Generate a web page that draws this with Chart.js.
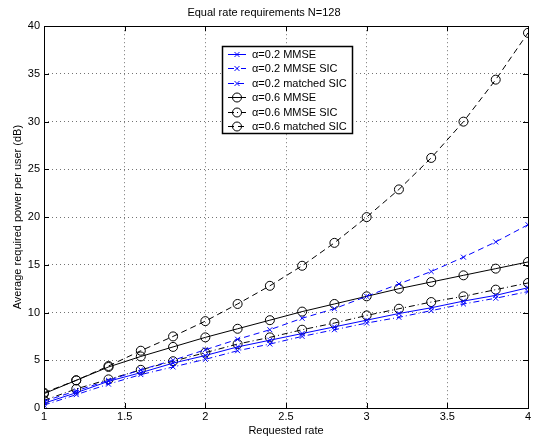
<!DOCTYPE html>
<html>
<head>
<meta charset="utf-8">
<script src="https://cdn.jsdelivr.net/npm/chart.js@4/dist/chart.umd.min.js"></script>
<style>
  html, body { margin: 0; padding: 0; background: #fff; }
  #wrap { width: 537px; height: 438px; }
</style>
</head>
<body>
<div id="wrap"><canvas id="chart" width="537" height="438"></canvas></div>
<script>
// requested rate values (x)
const rates = [1, 1.2, 1.4, 1.6, 1.8, 2, 2.2, 2.4, 2.6, 2.8, 3, 3.2, 3.4, 3.6, 3.8, 4];

// average required power per user (dB)
const a02Mmse       = [0.5, 1.6, 2.8, 3.7, 4.7, 5.5, 6.4, 7.1, 7.8, 8.5, 9.2, 9.9, 10.5, 11.2, 11.8, 12.6];
const a02MmseSic    = [0.3, 1.4, 2.5, 3.5, 4.3, 5.1, 6.0, 6.7, 7.5, 8.2, 8.9, 9.5, 10.2, 10.9, 11.5, 12.2];
const a02MatchedSic = [0.7, 1.8, 2.9, 4.0, 5.0, 6.1, 7.2, 8.2, 9.4, 10.4, 11.7, 13.0, 14.3, 15.8, 17.4, 19.2];
const a06Mmse       = [1.5, 2.9, 4.3, 5.4, 6.4, 7.4, 8.3, 9.2, 10.1, 10.9, 11.7, 12.5, 13.2, 13.9, 14.6, 15.3];
const a06MmseSic    = [0.8, 2.0, 3.0, 4.0, 4.9, 5.8, 6.7, 7.4, 8.2, 8.9, 9.7, 10.4, 11.1, 11.7, 12.4, 13.1];
const a06MatchedSic = [1.6, 2.9, 4.4, 6.0, 7.5, 9.1, 10.9, 12.8, 14.9, 17.3, 20.0, 22.9, 26.2, 30.0, 34.4, 39.3];

const seriesLabels = ['\u03b1=0.2 MMSE', '\u03b1=0.2 MMSE SIC', '\u03b1=0.2 matched SIC',
                      '\u03b1=0.6 MMSE', '\u03b1=0.6 MMSE SIC', '\u03b1=0.6 matched SIC'];
const xTicks = [1, 1.5, 2, 2.5, 3, 3.5, 4];
const yTicks = [0, 5, 10, 15, 20, 25, 30, 35, 40];

const FONT = '"Liberation Sans", Arial, Helvetica, sans-serif';
const BLUE = '#0000ff';
const BLACK = '#000000';
const SOLID = [];
const DASH = [6, 4];
const DASHDOT = [6, 3, 1, 3];

function makeSet(label, values, color, dash, marker) {
    return {
        label: label,
        data: values.map((v, i) => ({ x: rates[i], y: v })),
        borderColor: color,
        backgroundColor: 'rgba(0,0,0,0)',
        borderWidth: 1,
        borderDash: dash,
        pointStyle: marker,
        pointRadius: marker === 'circle' ? 4.5 : 3.5,
        pointBorderColor: color,
        pointBackgroundColor: 'rgba(0,0,0,0)',
        pointBorderWidth: 1,
        tension: 0,
        fill: false
    };
}

const datasets = [
    makeSet(seriesLabels[0], a02Mmse, BLUE, SOLID, 'crossRot'),
    makeSet(seriesLabels[1], a02MmseSic, BLUE, DASHDOT, 'crossRot'),
    makeSet(seriesLabels[2], a02MatchedSic, BLUE, DASH, 'crossRot'),
    makeSet(seriesLabels[3], a06Mmse, BLACK, SOLID, 'circle'),
    makeSet(seriesLabels[4], a06MmseSic, BLACK, DASHDOT, 'circle'),
    makeSet(seriesLabels[5], a06MatchedSic, BLACK, DASH, 'circle')
];

// matlab style box + inward ticks
const boxPlugin = {
    id: 'box',
    afterDraw(chart) {
        const ctx = chart.ctx;
        const a = chart.chartArea;
        const xs = chart.scales.x, ys = chart.scales.y;
        ctx.save();
        ctx.strokeStyle = '#000';
        ctx.lineWidth = 1;
        ctx.setLineDash([]);
        ctx.strokeRect(Math.round(a.left) + 0.5, Math.round(a.top) + 0.5,
                       Math.round(a.right - a.left), Math.round(a.bottom - a.top));
        ctx.beginPath();
        xTicks.forEach(t => {
            const px = Math.round(xs.getPixelForValue(t)) + 0.5;
            ctx.moveTo(px, a.bottom); ctx.lineTo(px, a.bottom - 5);
            ctx.moveTo(px, a.top); ctx.lineTo(px, a.top + 5);
        });
        yTicks.forEach(t => {
            const py = Math.round(ys.getPixelForValue(t)) + 0.5;
            ctx.moveTo(a.left, py); ctx.lineTo(a.left + 5, py);
            ctx.moveTo(a.right, py); ctx.lineTo(a.right - 5, py);
        });
        ctx.stroke();
        ctx.restore();
    }
};

// legend box drawn inside the plot
const legendPlugin = {
    id: 'boxLegend',
    afterDatasetsDraw(chart) {
        const ctx = chart.ctx;
        const x0 = 222, y0 = 46, w = 130, h = 87, rowH = 14.4, firstRow = 54;
        ctx.save();
        ctx.fillStyle = '#fff';
        ctx.fillRect(x0, y0, w, h);
        ctx.strokeStyle = '#000';
        ctx.lineWidth = 1.5;
        ctx.setLineDash([]);
        ctx.strokeRect(x0 + 0.5, y0 + 0.5, w, h);
        chart.data.datasets.forEach((ds, i) => {
            const y = Math.round(firstRow + i * rowH) + 0.5;
            ctx.strokeStyle = ds.borderColor;
            ctx.lineWidth = 1;
            ctx.setLineDash(ds.borderDash);
            ctx.beginPath();
            ctx.moveTo(228, y); ctx.lineTo(246, y);
            ctx.stroke();
            ctx.setLineDash([]);
            ctx.fillStyle = 'rgba(0,0,0,0)';
            Chart.helpers.drawPoint(ctx, {
                pointStyle: ds.pointStyle,
                radius: ds.pointRadius,
                borderWidth: 1
            }, 237, y);
            ctx.fillStyle = '#000';
            ctx.font = '11px ' + FONT;
            ctx.textBaseline = 'middle';
            ctx.textAlign = 'left';
            ctx.fillText(ds.label, 252, y);
        });
        ctx.restore();
    }
};

new Chart(document.getElementById('chart'), {
    type: 'line',
    data: { datasets: datasets },
    plugins: [boxPlugin, legendPlugin],
    options: {
        responsive: false,
        animation: false,
        layout: { padding: { left: 0, right: 9, top: 0, bottom: 0 } },
        plugins: {
            legend: { display: false },
            tooltip: { enabled: false },
            title: {
                display: true,
                text: 'Equal rate requirements N=128',
                color: '#000',
                font: { family: FONT, size: 11, weight: 'normal' },
                padding: { top: 6, bottom: 7 }
            }
        },
        scales: {
            x: {
                type: 'linear',
                min: 1, max: 4,
                afterBuildTicks(scale) { scale.ticks = xTicks.map(v => ({ value: v })); },
                afterFit(scale) { scale.height = 30; },
                ticks: {
                    color: '#000',
                    font: { family: FONT, size: 11 },
                    padding: 2,
                    maxRotation: 0,
                    callback: v => String(v)
                },
                grid: { color: 'rgba(0,0,0,0.55)', drawTicks: false },
                border: { display: false, dash: [1, 3] },
                title: {
                    display: true,
                    text: 'Requested rate',
                    color: '#000',
                    font: { family: FONT, size: 11 },
                    padding: { top: 1, bottom: 0 }
                }
            },
            y: {
                type: 'linear',
                min: 0, max: 40,
                afterBuildTicks(scale) { scale.ticks = yTicks.map(v => ({ value: v })); },
                afterFit(scale) { scale.width = 44; },
                ticks: {
                    color: '#000',
                    font: { family: FONT, size: 11 },
                    padding: 4,
                    callback: v => String(v)
                },
                grid: { color: 'rgba(0,0,0,0.55)', drawTicks: false },
                border: { display: false, dash: [1, 3] },
                title: {
                    display: true,
                    text: 'Average required power per user (dB)',
                    color: '#000',
                    font: { family: FONT, size: 11 },
                    padding: { top: 11, bottom: 0 }
                }
            }
        }
    }
});
</script>
</body>
</html>
